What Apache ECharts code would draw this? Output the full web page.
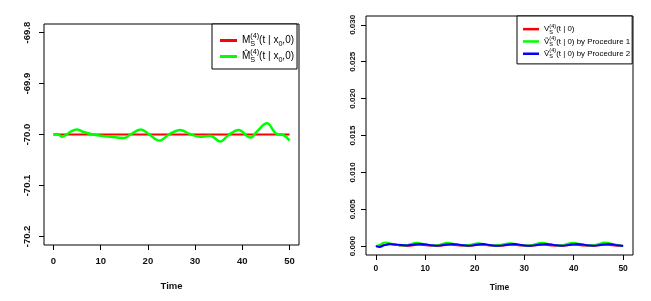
<!DOCTYPE html>
<html>
<head>
<meta charset="utf-8">
<script src="https://cdn.jsdelivr.net/npm/echarts@6/dist/echarts.min.js"></script>
<style>
html,body{margin:0;padding:0;background:#fff;}
#c{width:651px;height:301px;}
</style>
</head>
<body>
<div id="c"></div>
<script>
// ---- Left panel data ----
const timesM = [0, 50];
const valuesM = [-70.0, -70.0];
const timesMhat = [0, 0.9, 1.8, 2.7, 3.9, 4.9, 6.1, 8.6, 12.1, 14.9, 16.3, 18.5, 20.2, 22.4, 24.6, 26.8, 28.9, 31.1, 33.2, 35.3, 37.1, 39.2, 41.7, 43.1, 45.2, 47.3, 48.7, 50];
const valuesMhat = [-70.0, -69.999, -70.0045, -70.0005, -69.993, -69.990, -69.994, -70.0005, -70.0045, -70.007, -70.0, -69.990, -69.999, -70.012, -69.999, -69.991, -69.999, -70.0045, -70.0025, -70.0137, -70.001, -69.991, -70.006, -69.994, -69.978, -69.999, -70.001, -70.012];
const leftYTicks = [-70.2, -70.1, -70.0, -69.9, -69.8];

// ---- Right panel data ----
const timesV = [0, 1.2, 3.0, 4.8, 6.5, 8.5, 10.5, 12.5, 14.8, 16.8, 18.8, 21, 23, 25, 27.2, 29.2, 31, 33.5, 35.5, 37.5, 39.8, 41.8, 43.8, 46.2, 48.2, 50];
const valuesV = [0, 0.0001, 0.00025, 0.0001, 0.00005, 0.0002, 0.0001, 0.00005, 0.0002, 0.0001, 0.00005, 0.0002, 0.0001, 0.00005, 0.0002, 0.0001, 0.00005, 0.0002, 0.0001, 0.00005, 0.0002, 0.0001, 0.00005, 0.0002, 0.0001, 0.00005];
const timesV1 = [0, 0.8, 1.9, 3.6, 5.3, 6.6, 8.3, 10, 11.7, 12.9, 14.5, 16.2, 17.9, 19.1, 20.7, 22.4, 24, 25.3, 27.2, 28.9, 30.5, 31.8, 33.6, 35.3, 36.9, 38.1, 39.9, 41.6, 43.2, 44.5, 46.4, 48.1, 50];
const valuesV1 = [0, 0.0002, 0.0005, 0.00025, 0.00008, 0.0002, 0.00045, 0.00025, 0.00008, 0.0002, 0.00045, 0.00025, 0.00008, 0.0002, 0.0004, 0.0002, 0.00008, 0.0002, 0.0004, 0.0002, 0.00008, 0.0002, 0.00045, 0.00025, 0.00008, 0.0002, 0.00045, 0.00025, 0.00008, 0.0002, 0.00048, 0.00025, 0.00002];
const timesV2 = [0, 0.8, 1.6, 2.8, 4.6, 6.3, 7.5, 9.2, 10.8, 12.3, 13.6, 15.4, 17.2, 18.7, 20, 21.6, 23.3, 24.8, 26.2, 28, 29.7, 31.2, 32.5, 34.3, 36, 37.6, 38.9, 40.7, 42.4, 44, 45.3, 47.1, 48.8, 50];
const valuesV2 = [0, -0.00012, 0.0001, 0.0003, 0.00018, 0.0001, 0.0002, 0.0003, 0.00015, 0.00005, 0.00015, 0.0003, 0.00015, 0.00005, 0.00015, 0.00028, 0.00013, 0.00005, 0.00015, 0.00028, 0.00013, 0.00005, 0.00015, 0.0003, 0.00015, 0.00005, 0.00015, 0.0003, 0.00015, 0.00005, 0.00015, 0.0003, 0.00012, 0.00002];
const rightYTicks = [0, 0.005, 0.010, 0.015, 0.020, 0.025, 0.030];

const xTicks = [0, 10, 20, 30, 40, 50];
const xName = 'Time';

const legendLabels = {
  'M': '{t|M}{sb|S}{sp|(4)}{t|(t | x}{sb0|0}{t|,0)}',
  'Mhat': '{t|M\u0302}{sb|S}{sp|(4)}{t|(t | x}{sb0|0}{t|,0)}',
  'V': '{t|V}{sb|S}{sp|(4)}{t|(t | 0)}',
  'V1': '{t|\u1E7C}{sb|S}{sp|(4)}{t|(t | 0) by Procedure 1}',
  'V2': '{t|V\u0302}{sb|S}{sp|(4)}{t|(t | 0) by Procedure 2}'
};

const pairs = (xs, ys) => xs.map((x, i) => [x, ys[i]]);
const FONT = 'Liberation Sans';

function richFor(fs, lh) {
  return {
    t: {fontFamily: FONT, fontSize: fs, lineHeight: lh, color: '#000'},
    sp: {fontFamily: FONT, fontSize: fs * 0.72, lineHeight: fs * 0.72, verticalAlign: 'top', color: '#000'},
    sb: {fontFamily: FONT, fontSize: fs * 0.72, lineHeight: fs * 0.6, verticalAlign: 'bottom', width: 0, color: '#000'},
    sb0: {fontFamily: FONT, fontSize: fs * 0.72, lineHeight: fs * 0.6, verticalAlign: 'bottom', color: '#000'}
  };
}

const chart = echarts.init(document.getElementById('c'), null, {renderer: 'canvas'});

function xAxisFor(gi, fs, margin, nameGap) {
  return {
    type: 'value', gridIndex: gi, min: -2, max: 52,
    axisLine: {show: false, onZero: false},
    splitLine: {show: false},
    axisTick: {show: true, inside: false, customValues: xTicks, length: 5, lineStyle: {color: '#000', width: 1}},
    axisLabel: {customValues: xTicks, fontFamily: FONT, fontSize: fs, fontWeight: 'bold', color: '#111', margin: margin},
    name: xName, nameLocation: 'middle', nameGap: nameGap,
    nameTextStyle: {fontFamily: FONT, fontSize: fs, fontWeight: 'bold', color: '#111'}
  };
}

function yAxisFor(gi, min, max, ticks, digits, fs, margin) {
  return {
    type: 'value', gridIndex: gi, min: min, max: max,
    axisLine: {show: false, onZero: false},
    splitLine: {show: false},
    axisTick: {show: true, inside: false, customValues: ticks, length: 5, lineStyle: {color: '#000', width: 1}},
    axisLabel: {customValues: ticks, rotate: 90, fontFamily: FONT, fontSize: fs, fontWeight: 'bold', color: '#111', margin: margin,
      formatter: v => v.toFixed(digits)}
  };
}

const option = {
  animation: false,
  backgroundColor: '#fff',
  grid: [
    {left: 44, top: 24, width: 255, height: 221, show: true, borderColor: '#000', borderWidth: 1, backgroundColor: 'transparent'},
    {left: 366, top: 16, width: 267, height: 239, show: true, borderColor: '#000', borderWidth: 1, backgroundColor: 'transparent'}
  ],
  xAxis: [xAxisFor(0, 9.5, 11, 36), xAxisFor(1, 8.5, 9, 28)],
  yAxis: [
    yAxisFor(0, -70.2168, -69.7832, leftYTicks, 1, 9.5, 12),
    yAxisFor(1, -0.0012, 0.0312, rightYTicks, 3, 8, 9)
  ],
  legend: [
    {
      data: ['M', 'Mhat'], orient: 'vertical', left: 212, top: 24,
      padding: [9, 3, 5, 8], itemGap: 1, icon: 'rect', itemWidth: 17, itemHeight: 3,
      borderColor: '#000', borderWidth: 1, backgroundColor: '#fff',
      formatter: n => legendLabels[n],
      textStyle: {rich: richFor(10, 15)}
    },
    {
      data: ['V', 'V1', 'V2'], orient: 'vertical', left: 517, top: 16,
      padding: [7, 2, 4, 6], itemGap: 0, icon: 'rect', itemWidth: 16, itemHeight: 2.5,
      borderColor: '#000', borderWidth: 1, backgroundColor: '#fff',
      formatter: n => legendLabels[n],
      textStyle: {rich: richFor(7.9, 12.3)}
    }
  ],
  series: [
    {name: 'M', type: 'line', xAxisIndex: 0, yAxisIndex: 0, data: pairs(timesM, valuesM), showSymbol: false, lineStyle: {color: '#ff0000', width: 2}, itemStyle: {color: '#ff0000'}},
    {name: 'Mhat', type: 'line', xAxisIndex: 0, yAxisIndex: 0, data: pairs(timesMhat, valuesMhat), smooth: 0.4, showSymbol: false, lineStyle: {color: '#00ff00', width: 2.5}, itemStyle: {color: '#00ff00'}},
    {name: 'V', type: 'line', xAxisIndex: 1, yAxisIndex: 1, data: pairs(timesV, valuesV), smooth: 0.4, showSymbol: false, lineStyle: {color: '#ff0000', width: 2}, itemStyle: {color: '#ff0000'}},
    {name: 'V1', type: 'line', xAxisIndex: 1, yAxisIndex: 1, data: pairs(timesV1, valuesV1), smooth: 0.4, showSymbol: false, lineStyle: {color: '#00ff00', width: 2}, itemStyle: {color: '#00ff00'}},
    {name: 'V2', type: 'line', xAxisIndex: 1, yAxisIndex: 1, data: pairs(timesV2, valuesV2), smooth: 0.4, showSymbol: false, lineStyle: {color: '#0000ff', width: 2}, itemStyle: {color: '#0000ff'}}
  ]
};
chart.setOption(option);
</script>
</body>
</html>
